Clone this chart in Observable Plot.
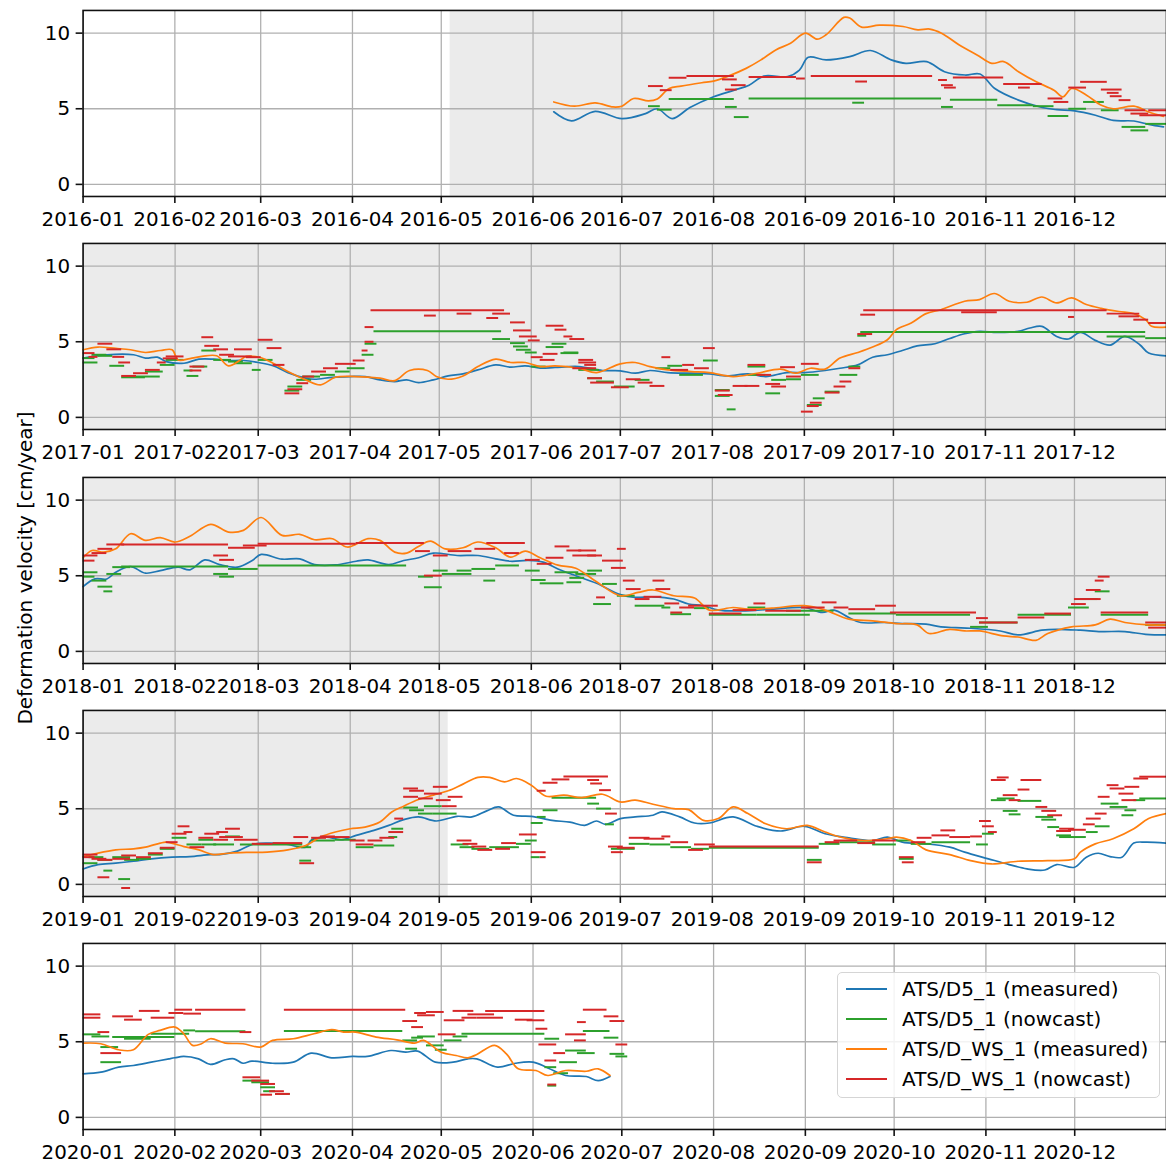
<!DOCTYPE html>
<html><head><meta charset="utf-8">
<script src="https://cdn.jsdelivr.net/npm/d3@7"></script>
<script src="https://cdn.jsdelivr.net/npm/@observablehq/plot@0.6"></script>
<style>
html,body{margin:0;padding:0;background:#fff;overflow:hidden;}
#fig{position:relative;width:1166px;height:1163px;overflow:hidden;font-family:"DejaVu Sans",sans-serif;color:#000;}
.panel{position:absolute;left:0;}
#ylabel{position:absolute;left:25px;top:568px;transform:translate(-50%,-50%) rotate(-90deg);font-size:20px;white-space:nowrap;}
#legend{position:absolute;left:837px;top:972px;width:321px;height:124px;border:1.5px solid #d5d5d5;border-radius:5px;background:rgba(255,255,255,0.85);box-sizing:content-box;}
.row{position:absolute;left:0;height:30px;}
.sw{position:absolute;left:8px;width:41px;top:-1px;height:1.8px;}
.lt{position:absolute;left:64px;top:-12px;font-size:20px;white-space:nowrap;line-height:24px;}
</style></head><body><div id="fig"></div>
<script>
// ---------- Data (day of year offset, value in cm/year) ----------
const years = [2016, 2017, 2018, 2019, 2020];
const shadedPeriod = ["2016-05-04", "2019-05-04"];
const yTicks = [0, 5, 10];
const yDomain = [-0.8, 11.5];
const seriesLabels = ["ATS/D5_1 (measured)", "ATS/D5_1 (nowcast)", "ATS/D_WS_1 (measured)", "ATS/D_WS_1 (nowcast)"];
const seriesColors = ["#1f77b4", "#2ca02c", "#ff7f0e", "#d62728"];
const yLabel = "Deformation velocity [cm/year]";

// measured: [day, value]
const d5Measured2016 = [[159,4.8],[165,4.2],[173,4.83],[182,4.35],[190,4.68],[194,5.0],[199,4.35],[205,5.08],[213,5.79],[220,6.23],[225,6.56],[230,7.16],[238,7.12],[242,7.56],[245,8.4],[251,8.23],[259,8.45],[266,8.85],[273,8.23],[278,8.0],[285,8.12],[291,7.45],[298,7.23],[303,7.3],[308,6.34],[316,5.57],[324,5.08],[329,4.94],[335,4.86],[342,4.57],[348,4.23],[355,4.19],[360,3.97],[365,3.8]];
const wsMeasured2016 = [[159,5.45],[166,5.17],[173,5.39],[179,5.12],[182,5.17],[186,5.68],[191,5.52],[194,5.65],[198,6.34],[202,6.5],[209,6.72],[213,6.83],[218,7.16],[224,7.67],[229,8.23],[234,8.89],[239,9.33],[244,10.0],[248,9.6],[251,9.89],[257,11.04],[259,11.0],[263,10.4],[269,10.53],[277,10.44],[282,10.22],[286,10.27],[290,10.0],[296,9.22],[302,8.56],[307,8.0],[311,8.12],[316,7.45],[322,6.78],[328,6.23],[331,5.79],[334,6.34],[339,5.9],[344,5.23],[348,5.0],[355,5.17],[360,4.79],[365,4.5]];
// nowcast: [startDay, endDay, value]
const d5Nowcast2016 = [[191,195,5.17],[194,199,4.94],[198,220,5.65],[217,221,5.12],[220,225,4.45],[225,290,5.68],[260,264,5.4],[290,294,5.12],[293,309,5.6],[309,321,5.23],[321,328,5.17],[326,333,4.52],[333,339,5.0],[338,345,5.45],[344,350,4.9],[351,359,3.8],[354,360,3.57],[359,366,4.0]];
const wsNowcast2016 = [[191,196,6.5],[195,199,6.23],[198,204,7.05],[204,220,7.16],[216,221,6.94],[219,224,6.56],[217,221,6.27],[225,241,7.1],[241,244,7.0],[246,287,7.16],[261,265,6.8],[289,292,6.9],[290,294,6.56],[291,295,6.4],[294,311,7.07],[311,324,6.63],[316,320,6.4],[326,331,5.68],[328,333,5.45],[333,339,6.4],[337,346,6.78],[344,351,6.27],[346,350,6.05],[347,351,5.83],[350,354,5.57],[352,359,4.9],[354,360,4.68],[357,366,4.57],[360,366,4.9]];

const d5Measured2017 = [[0,3.92],[8,4.14],[17,4.14],[21,3.92],[25,3.98],[28,3.69],[34,3.58],[39,3.85],[44,3.85],[49,3.76],[54,3.76],[59,3.63],[64,3.41],[69,2.96],[75,2.59],[78,2.52],[84,2.65],[90,2.7],[95,2.7],[100,2.48],[105,2.37],[109,2.48],[113,2.3],[118,2.48],[123,2.74],[128,2.88],[133,3.14],[139,3.47],[144,3.32],[149,3.41],[154,3.25],[159,3.3],[167,3.36],[175,3.1],[181,3.08],[186,2.92],[191,3.1],[197,2.96],[205,2.92],[211,2.88],[217,2.74],[224,2.88],[230,2.7],[237,2.96],[243,2.96],[250,3.1],[255,3.25],[261,3.47],[266,3.98],[271,4.14],[276,4.42],[281,4.73],[287,4.87],[292,5.22],[297,5.53],[302,5.69],[308,5.62],[315,5.69],[319,5.91],[323,6.02],[328,5.35],[332,5.18],[336,5.62],[341,5.09],[346,4.78],[351,5.35],[356,4.8],[359,4.25],[365,4.07]];
const wsMeasured2017 = [[0,4.47],[5,4.65],[11,4.56],[16,4.47],[21,4.29],[26,4.42],[30,4.47],[32,3.8],[36,3.89],[40,4.03],[45,4.07],[49,3.41],[53,3.8],[55,4.03],[60,3.94],[64,3.58],[69,3.03],[75,2.48],[80,2.15],[85,2.65],[92,2.7],[100,2.59],[105,2.43],[110,3.1],[116,3.1],[119,2.7],[123,2.52],[128,2.74],[133,3.36],[139,3.85],[144,3.63],[149,3.63],[154,3.36],[159,3.4],[167,3.25],[173,2.96],[181,3.54],[186,3.63],[191,3.36],[197,3.14],[205,3.03],[211,2.96],[219,2.7],[227,2.92],[235,3.19],[240,2.92],[245,3.25],[250,3.19],[255,3.92],[261,4.29],[266,4.65],[271,5.13],[274,5.8],[279,6.24],[284,6.86],[289,7.12],[297,7.68],[302,7.79],[307,8.19],[312,7.68],[318,7.61],[323,7.96],[328,7.57],[333,7.9],[338,7.46],[343,7.21],[349,7.0],[354,6.86],[358,6.46],[360,6.02],[365,5.97]];
const d5Nowcast2017 = [[0,5,3.63],[0,4,3.92],[3,8,4.14],[5,10,4.07],[9,14,3.41],[13,21,2.65],[16,26,2.7],[21,27,3.03],[26,31,3.47],[28,34,3.8],[34,37,3.1],[35,39,2.74],[37,42,3.36],[40,45,4.42],[44,50,3.8],[49,54,3.69],[51,57,3.58],[57,60,3.14],[59,64,3.8],[68,73,1.77],[69,74,2.04],[72,77,2.48],[74,80,2.7],[80,85,2.81],[85,90,3.03],[89,95,3.25],[94,98,4.14],[95,99,4.87],[98,141,5.69],[138,144,5.18],[144,149,4.91],[145,150,4.69],[146,151,4.47],[149,153,4.29],[151,156,3.36],[156,162,4.65],[158,163,4.87],[162,167,4.29],[161,167,4.25],[167,174,3.14],[170,175,2.59],[173,179,2.37],[179,186,2.04],[186,191,2.48],[193,198,3.25],[197,202,3.41],[201,209,2.81],[209,214,3.76],[213,218,1.81],[213,218,1.42],[217,220,0.53],[224,230,2.81],[224,230,3.36],[230,235,1.59],[232,237,2.48],[237,242,2.52],[242,248,2.81],[244,249,0.82],[246,250,1.26],[250,255,1.7],[255,261,2.81],[258,262,3.36],[261,264,5.4],[262,358,5.64],[345,358,5.35],[358,365,5.24]];
const wsNowcast2017 = [[0,4,4.25],[2,5,4.0],[5,10,4.87],[8,13,4.5],[10,14,4.0],[12,16,3.63],[13,18,2.74],[17,22,2.92],[21,26,3.14],[25,28,3.63],[27,32,3.9],[28,34,4.03],[36,40,3.1],[36,41,3.36],[40,44,5.3],[41,46,4.73],[44,49,4.5],[46,51,4.14],[49,57,4.03],[51,57,4.5],[55,60,3.98],[59,64,5.13],[62,67,4.58],[64,68,3.47],[68,73,1.59],[69,74,1.86],[72,76,2.26],[74,78,2.7],[77,82,3.03],[81,86,3.25],[85,92,3.54],[91,95,3.76],[94,96,4.42],[95,98,5.0],[95,98,5.97],[97,142,7.08],[115,119,6.73],[126,131,6.86],[136,140,6.57],[138,144,6.86],[144,149,6.28],[145,151,5.75],[147,153,5.35],[150,154,5.09],[151,155,3.98],[154,159,3.8],[155,160,4.2],[156,162,6.06],[159,163,5.8],[162,165,5.35],[164,169,5.18],[167,172,3.8],[169,173,3.47],[167,173,3.63],[165,173,3.25],[170,175,2.59],[171,179,2.3],[178,184,1.99],[183,188,2.52],[187,192,2.3],[191,196,2.08],[195,198,3.98],[198,204,3.14],[202,206,3.47],[206,211,3.25],[209,213,4.58],[213,218,1.77],[214,219,1.48],[219,224,2.08],[223,228,2.08],[224,230,3.47],[227,232,2.81],[230,235,2.21],[232,237,2.04],[235,240,3.32],[237,242,2.7],[242,248,3.54],[242,246,0.38],[244,248,0.75],[245,249,0.97],[250,255,1.64],[253,257,2.04],[255,259,2.37],[258,262,3.25],[261,266,5.51],[262,267,6.79],[263,345,7.08],[296,308,6.95],[332,334,6.64],[345,356,6.86],[349,356,6.68],[354,359,6.46],[359,365,6.24]];

const d5Measured2018 = [[0,4.28],[4,4.79],[8,4.79],[11,5.23],[16,5.61],[21,5.17],[26,5.34],[32,5.57],[36,5.39],[41,6.05],[46,5.74],[52,5.57],[57,6.01],[60,6.41],[67,6.1],[73,6.12],[78,5.74],[85,5.72],[92,5.96],[96,6.05],[103,5.74],[108,6.01],[113,6.19],[118,6.5],[126,6.34],[133,6.34],[139,6.12],[144,5.96],[150,6.01],[155,5.9],[160,5.45],[166,5.0],[173,4.5],[181,3.75],[186,3.57],[192,3.61],[199,3.46],[204,3.13],[209,3.02],[214,2.73],[222,2.68],[232,2.79],[243,2.9],[249,2.57],[253,2.73],[258,2.24],[262,1.91],[270,1.91],[276,1.84],[284,1.8],[289,1.62],[294,1.57],[299,1.53],[309,1.35],[315,1.09],[323,1.4],[328,1.46],[336,1.4],[343,1.31],[351,1.31],[358,1.13],[365,1.09]];
const wsMeasured2018 = [[0,6.19],[3,6.67],[7,6.56],[11,6.78],[16,7.78],[21,7.34],[26,7.52],[31,7.23],[36,7.61],[43,8.4],[49,7.89],[54,8.0],[60,8.85],[67,7.67],[73,7.74],[78,7.38],[84,7.45],[89,6.9],[96,7.45],[100,7.34],[105,6.56],[109,6.5],[113,6.94],[117,7.29],[122,6.78],[128,6.85],[133,7.23],[139,6.85],[144,6.23],[149,6.63],[154,6.19],[160,5.7],[166,5.5],[173,4.6],[181,3.68],[187,3.9],[192,4.06],[199,3.68],[206,3.53],[211,2.73],[219,2.9],[224,2.79],[232,2.86],[243,3.02],[250,2.73],[258,2.13],[266,2.02],[274,1.84],[281,1.75],[285,1.18],[292,1.46],[297,1.35],[302,1.35],[310,1.02],[315,0.95],[321,0.73],[325,1.18],[333,1.62],[341,1.75],[346,2.13],[351,1.91],[359,1.75],[365,1.75]];
const d5Nowcast2018 = [[0,5,5.23],[0,4,4.94],[3,8,4.68],[5,10,4.28],[7,10,3.97],[8,13,5.12],[10,16,5.57],[13,49,5.61],[44,49,5.12],[46,51,4.94],[49,59,5.45],[59,109,5.68],[113,118,4.94],[115,121,4.24],[118,123,5.34],[121,131,5.12],[126,131,5.34],[131,139,5.45],[135,139,4.68],[139,147,5.68],[149,154,5.34],[151,156,4.72],[154,162,4.5],[159,167,5.23],[164,169,4.86],[167,173,5.12],[163,168,4.57],[166,171,5.12],[170,175,5.34],[172,178,3.13],[175,180,4.46],[180,186,3.68],[186,196,3.02],[195,198,2.9],[198,205,2.46],[206,211,2.86],[211,227,2.42],[224,230,2.9],[227,245,2.42],[237,253,2.68],[258,274,2.5],[274,299,2.42],[299,305,1.62],[302,315,1.91],[315,333,2.42],[332,339,2.9],[336,342,3.46],[341,346,3.97],[343,359,2.42],[358,365,1.75]];
const wsNowcast2018 = [[0,5,6.34],[0,4,6.0],[3,8,6.5],[5,10,6.78],[8,14,7.07],[13,49,7.07],[44,49,6.34],[46,51,6.05],[49,58,6.85],[54,62,7.0],[59,92,7.12],[92,115,7.16],[112,117,6.63],[115,121,5.01],[118,123,6.34],[123,131,6.63],[132,139,6.78],[136,149,7.16],[142,147,6.5],[149,154,6.05],[153,158,5.79],[156,162,6.19],[159,164,6.94],[163,168,6.67],[165,173,6.34],[167,173,6.67],[170,175,6.34],[173,176,3.57],[175,182,6.0],[178,183,5.52],[180,183,6.78],[182,186,4.68],[183,188,4.12],[186,191,3.46],[189,195,3.61],[192,196,4.68],[193,198,4.12],[196,201,3.17],[198,202,2.57],[201,206,2.9],[204,214,3.02],[211,222,2.5],[219,227,2.73],[226,230,3.17],[230,242,2.68],[242,250,2.9],[249,254,3.24],[253,258,2.9],[258,267,2.79],[267,274,3.02],[272,301,2.57],[301,305,2.2],[302,315,1.91],[315,324,2.24],[324,333,2.5],[333,338,3.13],[334,343,3.46],[338,343,4.06],[341,344,4.68],[342,346,4.94],[343,359,2.57],[358,365,1.91],[359,365,1.57]];

const d5Measured2019 = [[0,1.02],[5,1.31],[11,1.4],[17,1.53],[23,1.69],[30,1.8],[36,1.84],[43,1.97],[46,1.97],[52,2.2],[57,2.64],[62,2.73],[68,2.68],[75,2.46],[77,2.95],[82,3.13],[87,2.95],[92,3.24],[98,3.57],[103,3.9],[108,4.28],[113,4.46],[119,4.19],[126,4.5],[131,4.46],[136,4.86],[140,5.12],[145,4.57],[151,4.5],[158,4.23],[164,4.12],[169,3.9],[173,4.19],[176,3.97],[181,4.35],[186,4.46],[192,4.57],[195,4.79],[201,4.46],[206,4.06],[211,4.06],[219,4.46],[227,3.84],[235,3.53],[243,3.84],[250,3.35],[258,3.08],[266,2.9],[271,3.13],[276,2.79],[284,2.68],[292,2.46],[297,2.13],[305,1.69],[312,1.31],[318,1.02],[324,0.95],[328,1.31],[334,1.13],[338,1.8],[342,2.06],[346,1.84],[350,1.8],[354,2.73],[358,2.79],[365,2.73]];
const wsMeasured2019 = [[0,1.84],[4,2.02],[11,2.28],[17,2.35],[21,2.46],[26,2.73],[28,2.79],[34,2.5],[39,2.28],[44,1.97],[49,2.06],[55,2.11],[62,2.13],[69,2.28],[75,2.57],[80,3.13],[85,3.46],[90,3.68],[95,3.79],[100,4.12],[104,4.79],[108,5.17],[113,5.61],[118,5.9],[123,6.19],[128,6.63],[133,7.07],[137,7.07],[142,6.78],[146,7.0],[151,6.56],[156,5.83],[162,5.9],[168,5.74],[175,5.96],[181,5.45],[186,5.57],[192,5.3],[199,5.01],[204,4.94],[209,4.23],[214,4.35],[219,5.12],[224,4.68],[230,4.01],[237,3.68],[244,3.9],[250,3.46],[255,3.13],[263,2.9],[271,3.02],[274,3.13],[279,2.9],[284,2.28],[292,1.97],[299,1.57],[306,1.35],[315,1.53],[325,1.57],[334,1.69],[336,2.13],[341,2.68],[347,3.02],[354,3.68],[359,4.35],[365,4.68]];
const d5Nowcast2019 = [[0,5,1.4],[2,7,1.8],[5,10,1.62],[7,10,0.91],[10,16,1.8],[12,16,0.35],[14,19,1.62],[18,23,1.69],[22,27,1.97],[26,31,2.35],[30,35,3.08],[35,40,2.64],[39,44,2.95],[40,45,2.64],[44,51,2.64],[48,53,3.17],[53,74,2.64],[72,77,2.46],[73,77,1.57],[77,85,2.9],[85,92,2.95],[92,98,2.46],[98,105,2.57],[103,106,3.13],[104,108,3.68],[108,113,5.08],[110,115,4.9],[113,118,4.68],[115,121,5.17],[118,126,4.68],[124,130,2.64],[127,132,2.46],[131,137,2.35],[137,147,2.46],[146,151,2.68],[149,153,2.9],[151,154,1.8],[151,155,4.06],[153,156,4.46],[155,160,4.9],[158,173,5.72],[170,174,5.34],[173,178,5.01],[176,179,3.97],[178,186,2.35],[184,191,2.68],[191,198,2.64],[198,205,2.46],[205,211,2.35],[211,248,2.42],[244,249,1.62],[248,255,2.68],[255,267,2.79],[266,274,2.64],[274,279,2.9],[275,280,1.69],[279,286,2.68],[286,299,2.79],[301,305,2.64],[303,307,3.35],[306,311,5.57],[308,314,5.68],[310,315,4.86],[312,316,4.63],[315,323,5.52],[321,327,4.46],[323,328,4.28],[325,329,3.79],[328,333,3.24],[329,338,3.13],[338,342,3.46],[341,346,3.84],[343,349,5.34],[346,352,5.12],[350,354,4.57],[351,355,4.9],[354,358,5.57],[356,365,5.68]];
const wsNowcast2019 = [[0,5,1.97],[0,4,1.8],[3,8,1.69],[5,10,1.62],[5,9,0.47],[10,16,1.69],[13,16,-0.24],[13,18,1.91],[18,23,1.8],[22,27,2.06],[26,31,2.42],[28,32,2.79],[30,35,3.35],[32,36,3.84],[34,37,3.46],[36,41,2.46],[39,44,3.08],[41,46,3.35],[44,49,2.95],[45,49,3.46],[46,54,3.13],[48,53,3.68],[51,59,2.95],[57,64,2.68],[64,74,2.73],[71,76,3.13],[73,78,1.4],[77,82,3.08],[80,85,3.17],[82,90,3.13],[90,95,2.9],[92,98,2.64],[96,101,2.9],[100,105,3.08],[103,108,3.46],[105,108,4.35],[108,113,6.34],[108,113,5.79],[110,115,6.19],[113,118,5.68],[115,121,6.0],[118,123,6.45],[119,124,5.57],[121,126,5.17],[123,128,5.79],[126,131,2.9],[128,133,2.68],[131,136,2.5],[133,138,2.28],[139,144,2.35],[141,146,2.73],[147,153,3.3],[151,156,2.13],[154,156,1.8],[153,156,6.19],[155,160,6.72],[158,164,6.94],[162,177,7.14],[170,174,6.9],[171,175,6.67],[174,178,6.23],[176,180,4.68],[177,182,2.5],[178,182,2.13],[180,186,2.42],[184,191,3.08],[189,196,3.02],[195,198,3.17],[198,204,2.79],[204,209,2.28],[206,213,2.64],[211,248,2.5],[244,249,1.46],[250,255,2.79],[253,261,2.9],[261,267,2.73],[266,274,2.9],[275,280,1.8],[276,280,1.46],[279,284,2.79],[281,286,3.08],[286,292,3.24],[289,294,3.57],[292,299,3.13],[299,303,3.17],[302,306,4.19],[303,307,3.84],[305,308,3.46],[306,311,6.9],[308,312,7.07],[310,315,5.9],[312,316,5.57],[315,319,6.27],[316,323,6.9],[321,325,5.12],[323,328,4.86],[325,330,4.57],[328,333,3.53],[329,334,3.68],[332,338,3.61],[337,341,3.97],[338,343,4.35],[341,345,4.68],[342,346,5.79],[345,349,6.56],[346,351,6.34],[349,354,6.0],[350,355,5.57],[351,356,6.45],[354,359,7.0],[356,365,7.12]];

const d5Measured2020 = [[0,2.88],[6,2.99],[12,3.32],[17,3.43],[23,3.65],[29,3.87],[31,3.94],[34,4.03],[39,3.87],[43,3.5],[48,3.81],[51,3.87],[54,3.58],[57,3.72],[64,3.58],[71,3.65],[77,4.25],[84,3.94],[91,4.03],[96,4.03],[104,4.42],[109,4.31],[113,4.38],[119,3.65],[125,3.65],[130,3.87],[133,3.87],[140,3.32],[146,3.58],[152,3.65],[157,3.27],[163,2.77],[170,2.7],[174,2.43],[178,2.7]];
const wsMeasured2020 = [[0,4.91],[6,4.87],[12,4.47],[17,4.47],[22,5.49],[26,5.75],[31,5.97],[34,5.53],[37,4.76],[40,4.87],[43,5.2],[48,4.91],[54,4.87],[60,4.65],[64,5.09],[71,5.2],[78,5.53],[84,5.8],[88,5.64],[92,5.64],[99,5.31],[106,5.13],[112,4.91],[115,5.09],[121,4.31],[126,4.09],[130,3.94],[133,4.16],[139,4.76],[143,4.2],[147,3.21],[153,3.1],[157,2.77],[163,3.1],[170,3.05],[174,3.21],[178,2.77]];
const d5Nowcast2020 = [[0,6,5.49],[3,9,5.35],[6,12,4.65],[6,13,3.65],[10,31,5.31],[14,23,5.2],[23,36,5.53],[34,38,5.75],[38,55,5.69],[54,60,2.43],[57,63,2.32],[60,65,1.99],[61,65,1.73],[65,70,1.55],[68,108,5.71],[108,113,5.09],[109,113,4.54],[111,115,5.27],[113,119,5.35],[116,122,4.76],[119,123,4.47],[122,128,5.09],[125,130,5.35],[128,156,5.53],[156,161,5.2],[156,160,3.32],[157,160,2.1],[159,164,2.92],[161,167,3.65],[163,170,4.42],[167,173,4.25],[169,178,5.71],[176,181,5.27],[178,183,4.2],[180,184,4.03]];
const wsNowcast2020 = [[0,6,6.81],[0,6,6.59],[5,9,5.64],[6,13,4.25],[10,17,6.68],[14,20,6.46],[19,26,7.04],[23,31,6.59],[29,34,6.9],[31,37,7.12],[34,40,6.86],[38,55,7.12],[53,57,5.64],[54,60,2.65],[57,63,2.43],[60,65,2.21],[63,68,1.73],[60,64,1.5],[65,70,1.55],[68,109,7.12],[108,113,6.37],[111,115,5.97],[112,116,6.9],[113,119,6.75],[116,122,6.97],[120,126,5.49],[122,129,6.42],[125,132,7.04],[128,133,6.59],[130,139,6.81],[133,142,6.59],[136,156,7.04],[146,152,6.46],[150,156,6.42],[153,157,5.86],[154,160,4.82],[156,160,3.76],[157,160,2.17],[159,163,4.25],[163,170,5.49],[166,170,5.09],[167,170,6.3],[169,177,7.12],[176,181,6.68],[178,183,6.37],[180,184,4.82]];

// ---------- Build ----------
const panelData = [
  [d5Measured2016, d5Nowcast2016, wsMeasured2016, wsNowcast2016],
  [d5Measured2017, d5Nowcast2017, wsMeasured2017, wsNowcast2017],
  [d5Measured2018, d5Nowcast2018, wsMeasured2018, wsNowcast2018],
  [d5Measured2019, d5Nowcast2019, wsMeasured2019, wsNowcast2019],
  [d5Measured2020, d5Nowcast2020, wsMeasured2020, wsNowcast2020]
];
const shadeStart = new Date(shadedPeriod[0] + "T00:00:00Z");
const shadeEnd = new Date(shadedPeriod[1] + "T00:00:00Z");
const fig = document.getElementById("fig");

years.forEach((year, i) => {
  const x0 = new Date(Date.UTC(year, 0, 1));
  const x1 = new Date(Date.UTC(year + 1, 0, 1));
  const toDate = d => new Date(x0.getTime() + d * 864e5);
  const months = d3.utcMonth.range(x0, x1);
  const [d5m, d5n, wsm, wsn] = panelData[i];
  const line = arr => arr.map(([d, v]) => ({date: toDate(d), v}));
  const segs = arr => arr.map(([a, b, v]) => ({a: toDate(a), b: toDate(b), v}));
  const s0 = shadeStart > x0 ? shadeStart : x0;
  const s1 = shadeEnd < x1 ? shadeEnd : x1;
  const shade = s0 < s1 ? [{a: s0, b: s1}] : [];
  const chart = Plot.plot({
    width: 1172,
    height: 233,
    marginLeft: 83, marginRight: 0, marginTop: 10, marginBottom: 36,
    x: {type: "utc", domain: [x0, x1]},
    y: {domain: yDomain},
    style: {fontFamily: "DejaVu Sans", fontSize: "20px", color: "#000", background: "transparent"},
    marks: [
      Plot.rect(shade, {x1: "a", x2: "b", fill: "#ebebeb"}),
      Plot.gridX({ticks: months, stroke: "#b0b0b0", strokeOpacity: 1, strokeWidth: 1.3}),
      Plot.gridY({ticks: yTicks, stroke: "#b0b0b0", strokeOpacity: 1, strokeWidth: 1.3}),
      Plot.line(line(d5m), {x: "date", y: "v", stroke: seriesColors[0], strokeWidth: 1.7, curve: "catmull-rom"}),
      Plot.ruleY(segs(d5n), {y: "v", x1: "a", x2: "b", stroke: seriesColors[1], strokeWidth: 2}),
      Plot.line(line(wsm), {x: "date", y: "v", stroke: seriesColors[2], strokeWidth: 1.7, curve: "catmull-rom"}),
      Plot.ruleY(segs(wsn), {y: "v", x1: "a", x2: "b", stroke: seriesColors[3], strokeWidth: 2}),
      Plot.frame({stroke: "#111", strokeWidth: 1.6}),
      Plot.axisX({ticks: months, tickFormat: d3.utcFormat("%Y-%m"), tickSize: 7, tickPadding: 8, fontSize: 20, label: null, stroke: "#111", strokeWidth: 1.6}),
      Plot.axisY({ticks: yTicks, tickSize: 7, tickPadding: 6, fontSize: 20, label: null, stroke: "#111", strokeWidth: 1.6})
    ]
  });
  chart.classList.add("panel");
  chart.style.top = Math.round(233.25 * i) + "px";
  fig.appendChild(chart);
});

const yl = document.createElement("div");
yl.id = "ylabel";
yl.textContent = yLabel;
fig.appendChild(yl);

const legend = document.createElement("div");
legend.id = "legend";
seriesLabels.forEach((lab, k) => {
  const row = document.createElement("div");
  row.className = "row";
  row.style.top = (16 + 30 * k) + "px";
  const sw = document.createElement("div");
  sw.className = "sw";
  sw.style.background = seriesColors[k];
  const t = document.createElement("div");
  t.className = "lt";
  t.textContent = lab;
  row.appendChild(sw); row.appendChild(t);
  legend.appendChild(row);
});
fig.appendChild(legend);
</script></body></html>
